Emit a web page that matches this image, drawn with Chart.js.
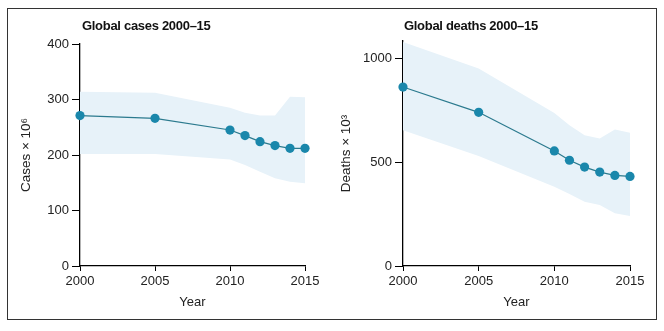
<!DOCTYPE html>
<html>
<head>
<meta charset="utf-8">
<script src="https://cdn.jsdelivr.net/npm/chart.js@4.4.0/dist/chart.umd.min.js"></script>
<style>
  html, body { margin: 0; padding: 0; background: #fff; }
  #wrap { position: relative; width: 664px; height: 331px; overflow: hidden; }
  .frame { position: absolute; left: 7px; top: 8px; width: 648px; height: 310px; border: 1px solid #333; }
  .box { position: absolute; top: 0; width: 332px; height: 331px; }
  .title { position: absolute; top: 19px; font: bold 13px "Liberation Sans", Arial, sans-serif; line-height: 14px; color: #111; white-space: nowrap; letter-spacing: -0.3px; }
</style>
</head>
<body>
<div id="wrap">
  <div class="frame"></div>
  <div class="box" style="left:0"><canvas id="cases"></canvas></div>
  <div class="box" style="left:332px"><canvas id="deaths"></canvas></div>
  <div class="title" style="left:82px">Global cases 2000–15</div>
  <div class="title" style="left:404px">Global deaths 2000–15</div>
</div>
<script>
// data
const years = [2000, 2005, 2010, 2011, 2012, 2013, 2014, 2015];

const casesMid = [271, 266, 245, 235, 224, 217, 212, 212];
const casesHigh = [314, 312, 285, 276, 271, 271, 305, 304];
const casesLow = [202, 202, 192, 182, 170, 158, 152, 149];

const deathsMid = [863, 741, 555, 510, 477, 453, 437, 432];
const deathsHigh = [1080, 952, 738, 679, 631, 615, 658, 642];
const deathsLow = [655, 530, 382, 347, 310, 294, 254, 241];

const xTicks = [2000, 2005, 2010, 2015];
const casesTicks = [0, 100, 200, 300, 400];
const deathsTicks = [0, 500, 1000];

const LINE = '#2b7a8e';
const DOT = '#1a87ab';
const BAND = '#e7f2f9';
const INK = '#222';
const FONT = "'Liberation Sans', Arial, sans-serif";

const pts = arr => arr.map((v, i) => ({ x: years[i], y: v }));

function makeChart(id, cfg) {
  const ctx = document.getElementById(id).getContext('2d');
  return new Chart(ctx, {
    type: 'line',
    data: {
      datasets: [
        { data: pts(cfg.mid), borderColor: LINE, borderWidth: 1.2, pointRadius: 4.6,
          pointBackgroundColor: DOT, pointBorderWidth: 0, fill: false, clip: false, tension: 0 },
        { data: pts(cfg.high), borderWidth: 0, pointRadius: 0, fill: false, tension: 0 },
        { data: pts(cfg.low), borderWidth: 0, pointRadius: 0, fill: '-1', backgroundColor: BAND, tension: 0 }
      ]
    },
    options: {
      responsive: false, animation: false, devicePixelRatio: 1,
      layout: { padding: { left: 0, right: cfg.padRight, top: cfg.padTop, bottom: 0 } },
      plugins: { legend: { display: false }, tooltip: { enabled: false } },
      scales: {
        x: {
          type: 'linear', min: 2000, max: 2015,
          afterFit: s => { s.height = 65; },
          afterBuildTicks: s => { s.ticks = xTicks.map(v => ({ value: v })); },
          grid: { drawOnChartArea: false, drawTicks: true, tickLength: 5, color: '#000', tickColor: '#000' },
          border: { color: '#000', width: 1.3 },
          ticks: { color: INK, padding: 3, font: { family: FONT, size: 13 }, maxRotation: 0, callback: v => String(v) },
          title: { display: true, text: 'Year', color: INK, font: { family: FONT, size: 13 }, padding: { top: 0, bottom: 21 } }
        },
        y: {
          min: 0, max: cfg.max,
          afterFit: s => { s.width = cfg.axisLeft; },
          afterBuildTicks: s => { s.ticks = cfg.ticks.map(v => ({ value: v })); },
          grid: { drawOnChartArea: false, drawTicks: true, tickLength: 8, color: '#000', tickColor: '#000' },
          border: { color: '#000', width: 1.3 },
          ticks: { color: INK, padding: 3, font: { family: FONT, size: 13 }, callback: v => String(v) },
          title: { display: true, text: cfg.label, color: INK, font: { family: FONT, size: 13.5 }, padding: { top: cfg.titlePad, bottom: 0 } }
        }
      }
    }
  });
}

for (const id of ['cases', 'deaths']) {
  const c = document.getElementById(id);
  c.width = 332; c.height = 331;
  c.style.width = '332px'; c.style.height = '331px';
}

makeChart('cases', {
  mid: casesMid, high: casesHigh, low: casesLow,
  max: 400, ticks: casesTicks, label: 'Cases × 10⁶',
  axisLeft: 80, padRight: 27, padTop: 44, titlePad: 18
});

makeChart('deaths', {
  mid: deathsMid, high: deathsHigh, low: deathsLow,
  max: 1085, ticks: deathsTicks, label: 'Deaths × 10³',
  axisLeft: 71, padRight: 34, padTop: 41, titlePad: 6
});
</script>
</body>
</html>
